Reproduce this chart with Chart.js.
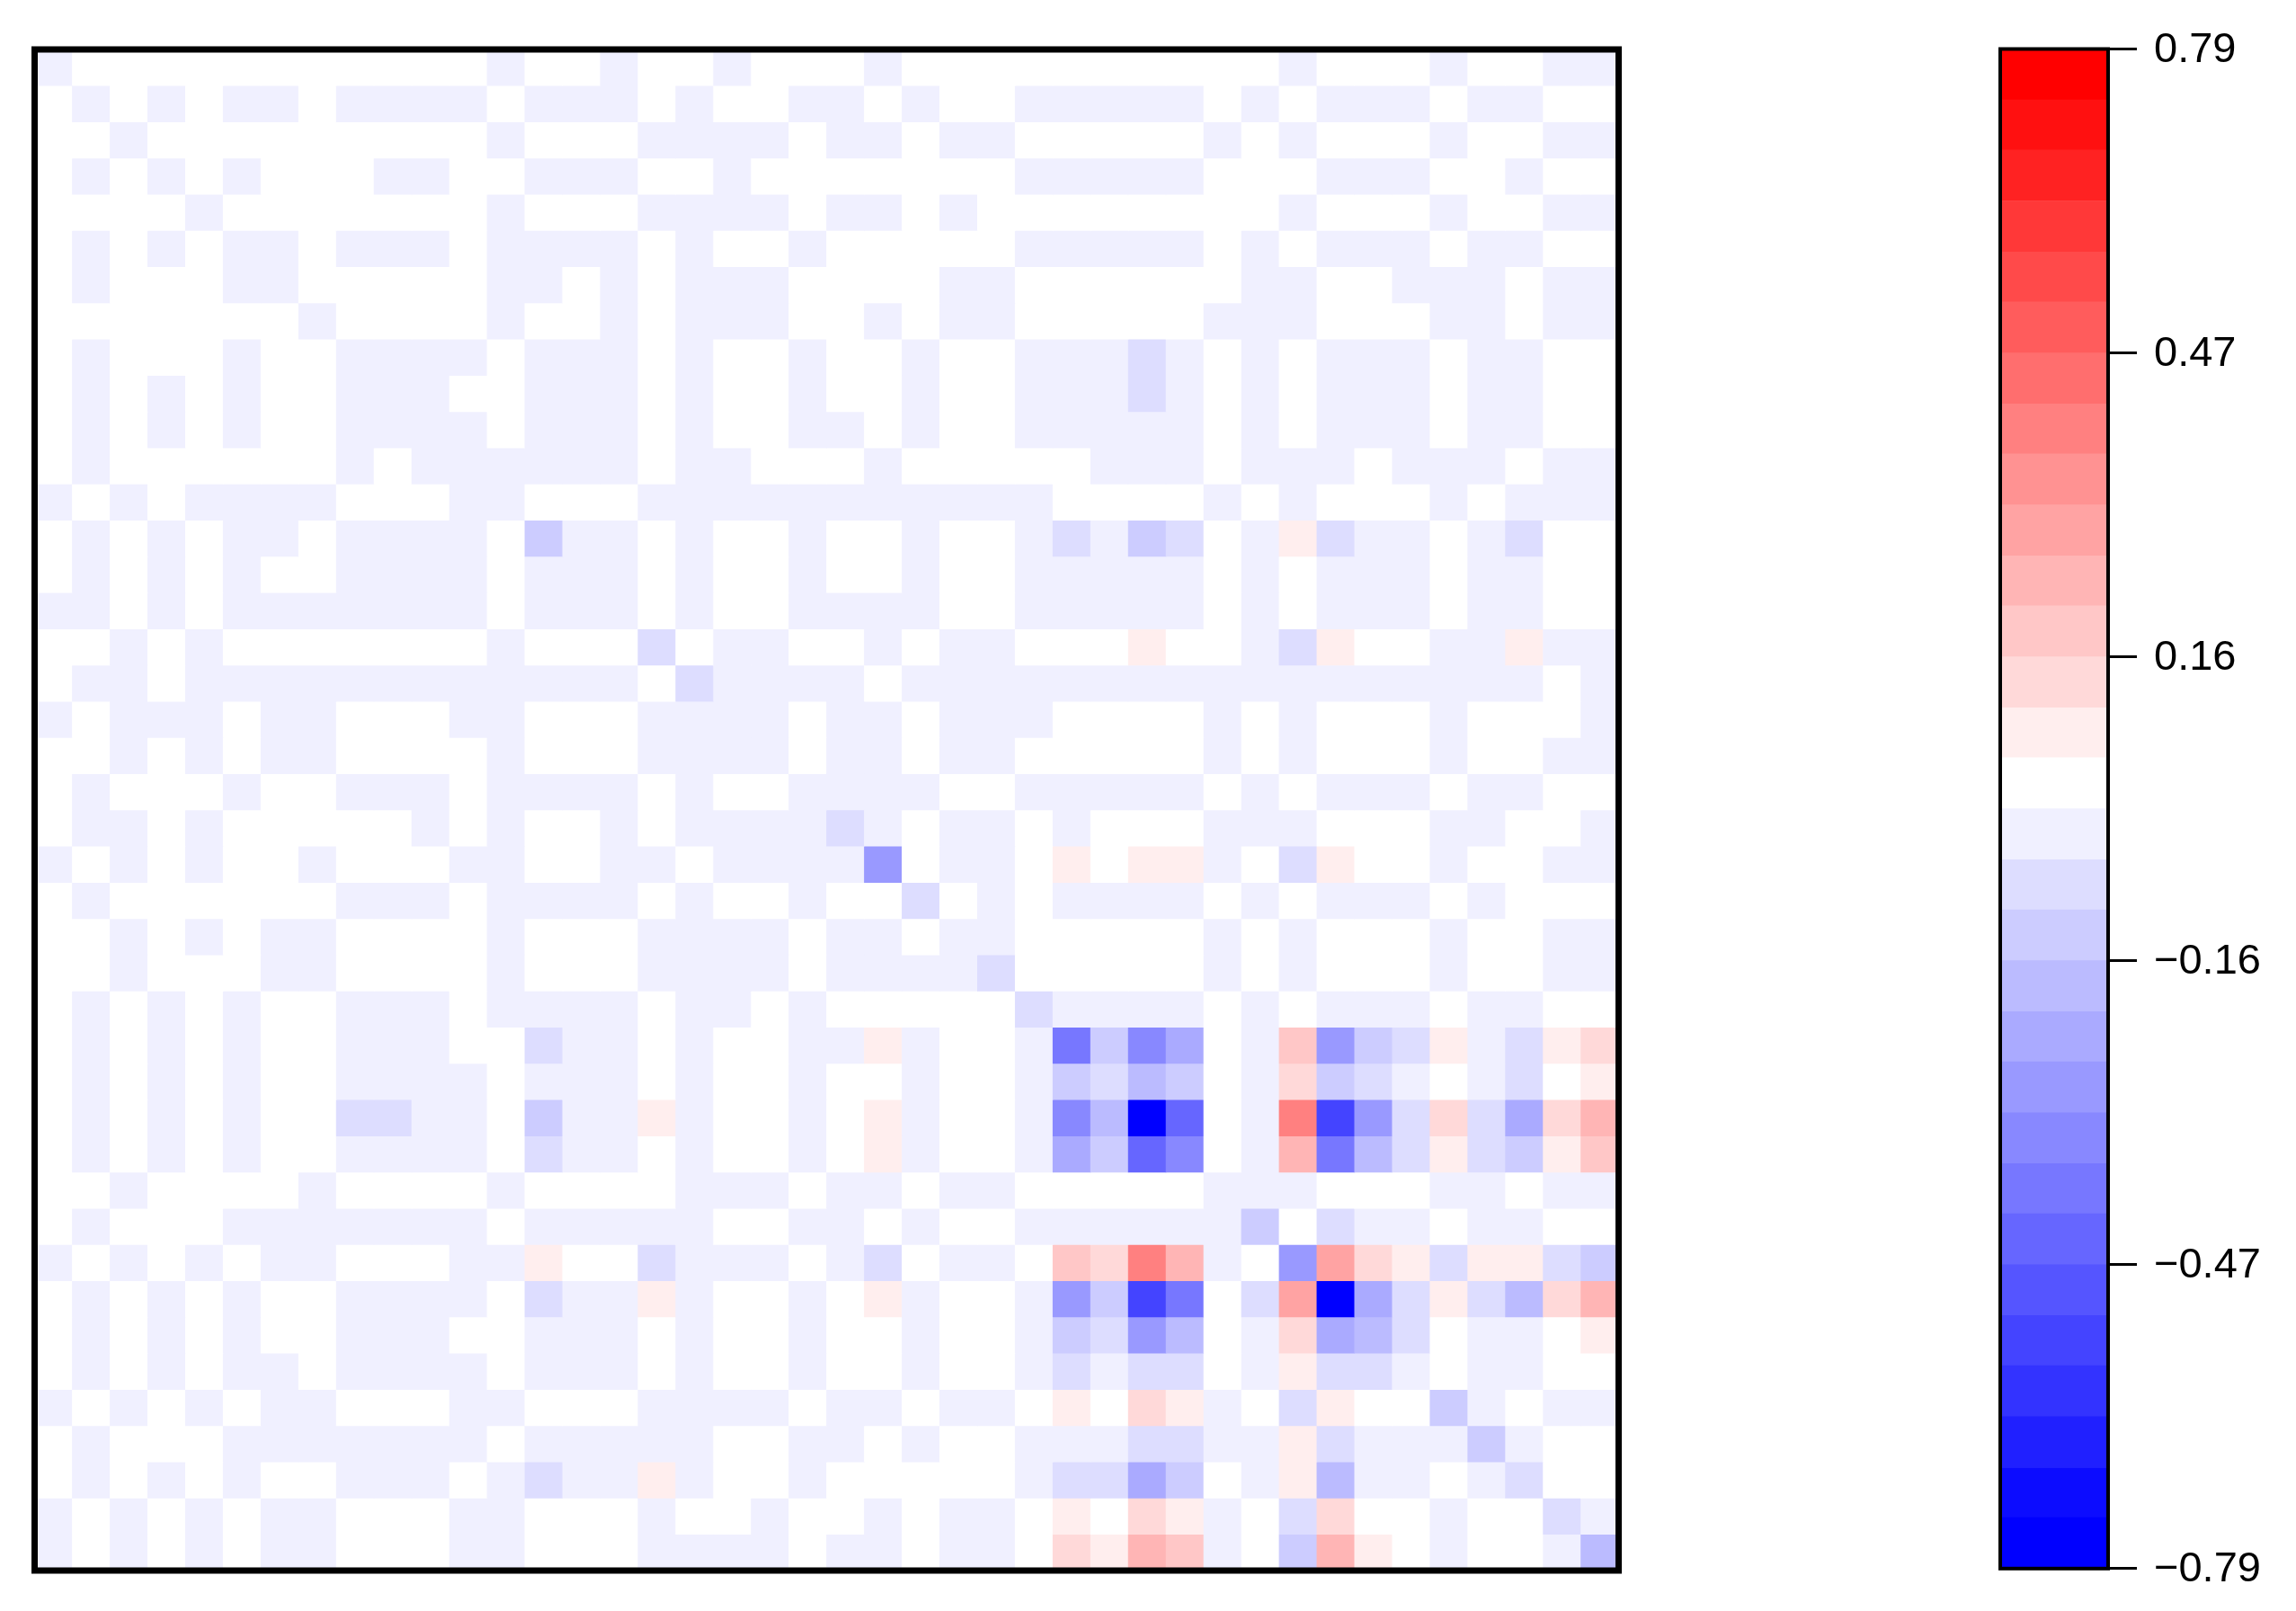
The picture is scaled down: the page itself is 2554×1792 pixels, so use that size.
<!DOCTYPE html>
<html>
<head>
<meta charset="utf-8">
<title>Heatmap</title>
<script src="https://cdn.jsdelivr.net/npm/chart.js@4/dist/chart.umd.min.js"></script>
<style>
  html, body { margin: 0; padding: 0; background: #fff; }
  body { width: 2554px; height: 1792px; position: relative; overflow: hidden; }
  .wrap { position: absolute; top: 0; height: 1792px; }
  #wrapMapa { left: 0; width: 1840px; }
  #wrapBarra { left: 2100px; width: 454px; }
</style>
</head>
<body>
<div class="wrap" id="wrapMapa"><canvas id="mapa"></canvas></div>
<div class="wrap" id="wrapBarra"><canvas id="barra"></canvas></div>
<script>
// cell values, in hundredths, top row first
const row0 = [-3,3,3,3,3,3,3,3,3,3,3,3,-3,3, 3,-3,3,3,-3,3,3,3,-3,3,3,3,3,3, 3,3,3,3,3,-3,3,3,3,-3,3,3,-3,-3];
const row1 = [3,-3,3,-3,3,-3,-3,3,-3,-3,-3,-3,3,-3, -3,-3,3,-3,3,3,-3,-3,3,-3,3,3,-3,-3, -3,-3,-3,3,-3,3,-3,-3,-3,3,-3,-3,3,3];
const row2 = [3,3,-3,3,3,3,3,3,3,3,3,3,-3,3, 3,3,-3,-3,-3,-3,3,-3,-3,3,-3,-3,3,3, 3,3,3,-3,3,-3,3,3,3,-3,3,3,-3,-3];
const row3 = [3,-3,3,-3,3,-3,3,3,3,-3,-3,3,3,-3, -3,-3,3,3,-3,3,3,3,3,3,3,3,-3,-3, -3,-3,-3,3,3,3,-3,-3,-3,3,3,-3,3,3];
const row4 = [3,3,3,3,-3,3,3,3,3,3,3,3,-3,3, 3,3,-3,-3,-3,-3,3,-3,-3,3,-3,3,3,3, 3,3,3,3,3,-3,3,3,3,-3,3,3,-3,-3];
const row5 = [3,-3,3,-3,3,-3,-3,3,-3,-3,-3,3,-3,-3, -3,-3,3,-3,3,3,-3,3,3,3,3,3,-3,-3, -3,-3,-3,3,-3,3,-3,-3,-3,3,-3,-3,3,3];
const row6 = [3,-3,3,3,3,-3,-3,3,3,3,3,3,-3,-3, 3,-3,3,-3,-3,-3,3,3,3,3,-3,-3,3,3, 3,3,3,3,-3,-3,3,3,-3,-3,-3,3,-3,-3];
const row7 = [3,3,3,3,3,3,3,-3,3,3,3,3,-3,3, 3,-3,3,-3,-3,-3,3,3,-3,3,-3,-3,3,3, 3,3,3,-3,-3,-3,3,3,3,-3,-3,3,-3,-3];
const row8 = [3,-3,3,3,3,-3,3,3,-3,-3,-3,-3,3,-3, -3,-3,3,-3,3,3,-3,3,3,-3,3,3,-3,-3, -3,-8,-3,3,-3,3,-3,-3,-3,3,-3,-3,3,3];
const row9 = [3,-3,3,-3,3,-3,3,3,-3,-3,-3,3,3,-3, -3,-3,3,-3,3,3,-3,3,3,-3,3,3,-3,-3, -3,-8,-3,3,-3,3,-3,-3,-3,3,-3,-3,3,3];
const row10 = [3,-3,3,-3,3,-3,3,3,-3,-3,-3,-3,3,-3, -3,-3,3,-3,3,3,-3,-3,3,-3,3,3,-3,-3, -3,-3,-3,3,-3,3,-3,-3,-3,3,-3,-3,3,3];
const row11 = [3,-3,3,3,3,3,3,3,-3,3,-3,-3,-3,-3, -3,-3,3,-3,-3,3,3,3,-3,3,3,3,3,3, -3,-3,-3,3,-3,-3,-3,3,-3,-3,-3,3,-3,-3];
const row12 = [-3,3,-3,3,-3,-3,-3,-3,3,3,3,-3,-3,3, 3,3,-3,-3,-3,-3,-3,-3,-3,-3,-3,-3,-3,3, 3,3,3,-3,3,-3,3,3,3,-3,3,-3,-3,-3];
const row13 = [3,-3,3,-3,3,-3,-3,3,-3,-3,-3,-3,3,-13, -3,-3,3,-3,3,3,-3,3,3,-3,3,3,-3,-8, -3,-13,-8,3,-3,8,-8,-3,-3,3,-3,-8,3,3];
const row14 = [3,-3,3,-3,3,-3,3,3,-3,-3,-3,-3,3,-3, -3,-3,3,-3,3,3,-3,3,3,-3,3,3,-3,-3, -3,-3,-3,3,-3,3,-3,-3,-3,3,-3,-3,3,3];
const row15 = [-3,-3,3,-3,3,-3,-3,-3,-3,-3,-3,-3,3,-3, -3,-3,3,-3,3,3,-3,-3,-3,-3,3,3,-3,-3, -3,-3,-3,3,-3,3,-3,-3,-3,3,-3,-3,3,3];
const row16 = [3,3,-3,3,-3,3,3,3,3,3,3,3,-3,3, 3,3,-8,3,-3,-3,3,3,-3,3,-3,-3,3,3, 3,8,3,3,-3,-8,8,3,3,-3,-3,8,-3,-3];
const row17 = [3,-3,-3,3,-3,-3,-3,-3,-3,-3,-3,-3,-3,-3, -3,-3,3,-8,-3,-3,-3,-3,3,-3,-3,-3,-3,-3, -3,-3,-3,-3,-3,-3,-3,-3,-3,-3,-3,-3,3,-3];
const row18 = [-3,3,-3,-3,-3,3,-3,-3,3,3,3,-3,-3,3, 3,3,-3,-3,-3,-3,3,-3,-3,3,-3,-3,-3,3, 3,3,3,-3,3,-3,3,3,3,-3,3,3,3,-3];
const row19 = [3,3,-3,3,-3,3,-3,-3,3,3,3,3,-3,3, 3,3,-3,-3,-3,-3,3,-3,-3,3,-3,-3,3,3, 3,3,3,-3,3,-3,3,3,3,-3,3,3,-3,-3];
const row20 = [3,-3,3,3,3,-3,3,3,-3,-3,-3,3,-3,-3, -3,-3,3,-3,3,3,-3,-3,-3,-3,3,3,-3,-3, -3,-3,-3,3,-3,3,-3,-3,-3,3,-3,-3,3,3];
const row21 = [3,-3,-3,3,-3,3,3,3,3,3,-3,3,-3,3, 3,-3,3,-3,-3,-3,-3,-8,-3,3,-3,-3,3,-3, 3,3,3,-3,-3,-3,3,3,3,-3,-3,3,3,-3];
const row22 = [-3,3,-3,3,-3,3,3,-3,3,3,3,-3,-3,3, 3,-3,-3,3,-3,-3,-3,-3,-29,3,-3,-3,3,8, 3,8,8,-3,3,-8,8,3,3,-3,3,3,-3,-3];
const row23 = [3,-3,3,3,3,3,3,3,-3,-3,-3,3,-3,-3, -3,-3,3,-3,3,3,-3,3,3,-8,3,-3,3,-3, -3,-3,-3,3,-3,3,-3,-3,-3,3,-3,3,3,3];
const row24 = [3,3,-3,3,-3,3,-3,-3,3,3,3,3,-3,3, 3,3,-3,-3,-3,-3,3,-3,-3,3,-3,-3,3,3, 3,3,3,-3,3,-3,3,3,3,-3,3,3,-3,-3];
const row25 = [3,3,-3,3,3,3,-3,-3,3,3,3,3,-3,3, 3,3,-3,-3,-3,-3,3,-3,-3,-3,-3,-8,3,3, 3,3,3,-3,3,-3,3,3,3,-3,3,3,-3,-3];
const row26 = [3,-3,3,-3,3,-3,3,3,-3,-3,-3,3,-3,-3, -3,-3,3,-3,-3,3,-3,3,3,3,3,3,-8,-3, -3,-3,-3,3,-3,3,-3,-3,-3,3,-3,-3,3,3];
const row27 = [3,-3,3,-3,3,-3,3,3,-3,-3,-3,3,3,-8, -3,-3,3,-3,3,3,-3,-3,8,-3,3,3,-3,-40, -13,-34,-24,3,-3,18,-29,-13,-8,8,-3,-8,8,13];
const row28 = [3,-3,3,-3,3,-3,3,3,-3,-3,-3,-3,3,-3, -3,-3,3,-3,3,3,-3,3,3,-3,3,3,-3,-13, -8,-18,-13,3,-3,13,-13,-8,-3,3,-3,-8,3,8];
const row29 = [3,-3,3,-3,3,-3,3,3,-8,-8,-3,-3,3,-13, -3,-3,8,-3,3,3,-3,3,8,-3,3,3,-3,-34, -18,-79,-45,3,-3,40,-55,-29,-8,13,-8,-24,13,24];
const row30 = [3,-3,3,-3,3,-3,3,3,-3,-3,-3,-3,3,-8, -3,-3,3,-3,3,3,-3,3,8,-3,3,3,-3,-24, -13,-45,-34,3,-3,24,-40,-18,-8,8,-8,-13,8,18];
const row31 = [3,3,-3,3,3,3,3,-3,3,3,3,3,-3,3, 3,3,3,-3,-3,-3,3,-3,-3,3,-3,-3,3,3, 3,3,3,-3,-3,-3,3,3,3,-3,-3,3,-3,-3];
const row32 = [3,-3,3,3,3,-3,-3,-3,-3,-3,-3,-3,3,-3, -3,-3,-3,-3,3,3,-3,-3,3,-3,3,3,-3,-3, -3,-3,-3,-3,-13,3,-8,-3,-3,3,-3,-3,3,3];
const row33 = [-3,3,-3,3,-3,3,-3,-3,3,3,3,-3,-3,8, 3,3,-8,-3,-3,-3,3,-3,-8,3,-3,-3,3,18, 13,40,24,-3,3,-29,29,13,8,-8,8,8,-8,-13];
const row34 = [3,-3,3,-3,3,-3,3,3,-3,-3,-3,-3,3,-8, -3,-3,8,-3,3,3,-3,3,8,-3,3,3,-3,-29, -13,-55,-40,3,-8,29,-79,-24,-8,8,-8,-18,13,24];
const row35 = [3,-3,3,-3,3,-3,3,3,-3,-3,-3,3,3,-3, -3,-3,3,-3,3,3,-3,3,3,-3,3,3,-3,-13, -8,-29,-18,3,-3,13,-24,-18,-8,3,-3,-3,3,8];
const row36 = [3,-3,3,-3,3,-3,-3,3,-3,-3,-3,-3,3,-3, -3,-3,3,-3,3,3,-3,3,3,-3,3,3,-3,-8, -3,-8,-8,3,-3,8,-8,-8,-3,3,-3,-3,3,3];
const row37 = [-3,3,-3,3,-3,3,-3,-3,3,3,3,-3,-3,3, 3,3,-3,-3,-3,-3,3,-3,-3,3,-3,-3,3,8, 3,13,8,-3,3,-8,8,3,3,-13,-3,3,-3,-3];
const row38 = [3,-3,3,3,3,-3,-3,-3,-3,-3,-3,-3,3,-3, -3,-3,-3,-3,3,3,-3,-3,3,-3,3,3,-3,-3, -3,-8,-8,-3,-3,8,-8,-3,-3,-3,-13,-3,3,3];
const row39 = [3,-3,3,-3,3,-3,3,3,-3,-3,-3,3,-3,-8, -3,-3,8,-3,3,3,-3,3,3,3,3,3,-3,-8, -8,-24,-13,3,-3,8,-18,-3,-3,3,-3,-8,3,3];
const row40 = [-3,3,-3,3,-3,3,-3,-3,3,3,3,-3,-3,3, 3,3,-3,3,3,-3,3,3,-3,3,-3,-3,3,8, 3,13,8,-3,3,-8,13,3,3,-3,3,3,-8,-3];
const row41 = [-3,3,-3,3,-3,3,-3,-3,3,3,3,-3,-3,3, 3,3,-3,-3,-3,-3,3,-3,-3,3,-3,-3,3,13, 8,24,18,-3,3,-13,24,8,3,-3,3,3,-3,-18];

const rows = [row0, row1, row2, row3, row4, row5, row6, row7, row8, row9, row10, row11, row12, row13,
  row14, row15, row16, row17, row18, row19, row20, row21, row22, row23, row24, row25, row26, row27,
  row28, row29, row30, row31, row32, row33, row34, row35, row36, row37, row38, row39, row40, row41];

// colour bar: band edges from bottom to top, and tick labels
const bandEdges = [-0.79,-0.737,-0.685,-0.632,-0.579,-0.527,-0.474,-0.421,-0.369,-0.316,-0.263,-0.211,-0.158,-0.105,-0.053,0,
  0.053,0.105,0.158,0.211,0.263,0.316,0.369,0.421,0.474,0.527,0.579,0.632,0.685,0.737,0.79];
const barTicks = [-0.79, -0.474, -0.158, 0.158, 0.474, 0.79];

const bandColors = ["#0000ff","#0c0cff","#2020ff","#3333ff","#4444ff","#5555ff","#6666ff","#7777ff","#8888ff","#9999ff",
  "#aaaaff","#bbbbff","#ccccff","#ddddff","#f0f0ff","#ffffff","#ffeeee","#ffd9d9","#ffc7c7","#ffb5b5",
  "#ffa3a3","#ff9292","#ff8080","#ff6e6e","#ff5c5c","#ff4a4a","#ff3838","#ff2222","#ff1010","#ff0000"];

// which band a cell falls in
function colorFor(value) {
  const v = value / 100;
  for (let i = 0; i < bandColors.length; i++) {
    if (v < bandEdges[i + 1]) return bandColors[i];
  }
  return bandColors[bandColors.length - 1];
}

// black box around the plot area
const frameBox = {
  id: "frameBox",
  afterDatasetsDraw(chart, args, opts) {
    const { ctx, chartArea } = chart;
    ctx.save();
    ctx.strokeStyle = "#000";
    ctx.lineWidth = opts.lineWidth;
    ctx.strokeRect(chartArea.left, chartArea.top, chartArea.width, chartArea.height);
    ctx.restore();
  },
};

Chart.defaults.animation = false;
Chart.defaults.responsive = true;
Chart.defaults.maintainAspectRatio = false;

// heatmap: one stacked dataset per row, every bar one unit high
new Chart(document.getElementById("mapa"), {
  type: "bar",
  plugins: [frameBox],
  data: {
    labels: row0.map((v, i) => i + 1),
    datasets: rows.map((row, r) => ({
      label: "row " + (r + 1),
      data: row.map(() => 1),
      backgroundColor: row.map(colorFor),
      borderWidth: 0,
      barPercentage: 1,
      categoryPercentage: 1,
    })),
  },
  options: {
    layout: { padding: { left: 38.5, right: 39.5, top: 55, bottom: 45 } },
    plugins: { legend: { display: false }, tooltip: { enabled: false }, frameBox: { lineWidth: 7 } },
    scales: {
      x: { stacked: true, display: false },
      y: { stacked: true, display: false, reverse: true, min: 0, max: rows.length },
    },
  },
});

// colour bar: floating bars between the band edges
new Chart(document.getElementById("barra"), {
  type: "bar",
  plugins: [frameBox],
  data: {
    labels: [""],
    datasets: bandColors.map((color, i) => ({
      data: [[bandEdges[i], bandEdges[i + 1]]],
      backgroundColor: color,
      borderWidth: 0,
      grouped: false,
      barPercentage: 1,
      categoryPercentage: 1,
    })),
  },
  options: {
    layout: { padding: { left: 125, right: 38, top: 54.5, bottom: 44.5 } },
    plugins: { legend: { display: false }, tooltip: { enabled: false }, frameBox: { lineWidth: 4 } },
    scales: {
      x: { display: false },
      y: {
        position: "right",
        min: -0.79,
        max: 0.79,
        afterFit(axis) { axis.width = 171; },
        afterBuildTicks(axis) { axis.ticks = barTicks.map((value) => ({ value })); },
        border: { display: false },
        grid: { drawOnChartArea: false, drawTicks: true, tickLength: 32, tickWidth: 3, tickColor: "#000" },
        ticks: {
          autoSkip: false,
          maxRotation: 0,
          padding: 19,
          labelOffset: 1.5,
          color: "#000",
          font: { family: "'Liberation Sans'", size: 47 },
          callback: (value) => (value < 0 ? "\u2212" : "") + Math.abs(value).toFixed(2),
        },
      },
    },
  },
});
</script>
</body>
</html>
